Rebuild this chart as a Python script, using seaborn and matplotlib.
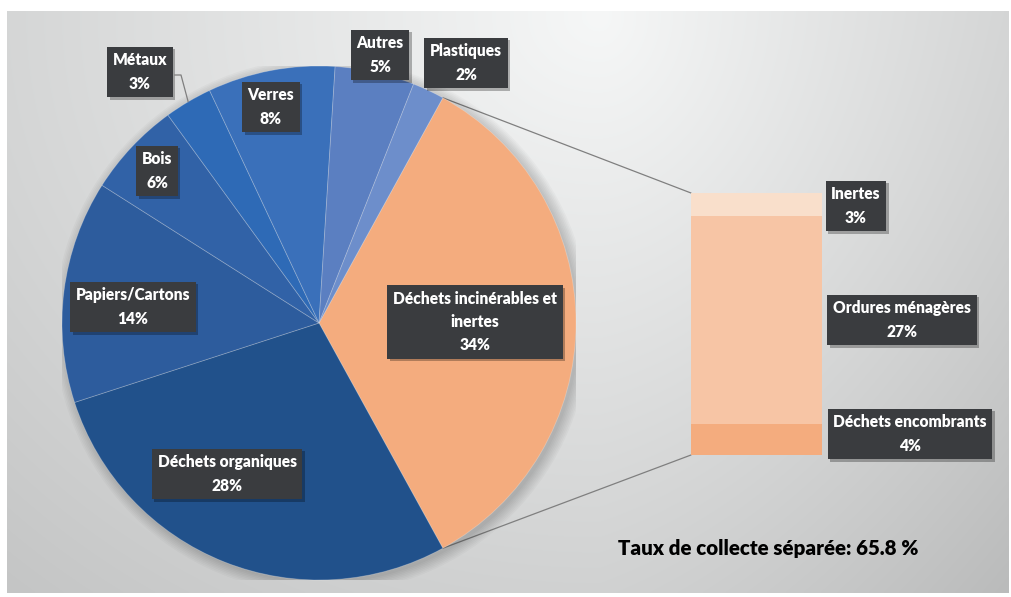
import numpy as np
import matplotlib
matplotlib.use("Agg")
import matplotlib.pyplot as plt
from matplotlib.patches import ConnectionPatch, Circle, Rectangle
import seaborn as sns

# ---------------- data ----------------
pie_labels = ["Déchets incinérables et\ninertes", "Déchets organiques", "Papiers/Cartons",
              "Bois", "Métaux", "Verres", "Autres", "Plastiques"]
pie_values = [34, 28, 14, 6, 3, 8, 5, 2]
pie_pct = ["34%", "28%", "14%", "6%", "3%", "8%", "5%", "2%"]

bar_labels = ["Déchets encombrants", "Ordures ménagères", "Inertes"]   # bottom -> top
bar_values = [4, 27, 3]
bar_pct = ["4%", "27%", "3%"]

summary_text = "Taux de collecte séparée: 65.8 %"

# ---------------- styles ----------------
pie_colors = ["#F4AC7E", "#21518B", "#2D5C9D", "#3162A7", "#2E6AB6", "#3A70BA", "#5B7FC1", "#6D8ECB"]
bar_colors = ["#F4AC7E", "#F7C5A5", "#F9DFCB"]
pie_label_pos = [(475, 322), (227, 474), (133, 307), (157, 171), (140, 72), (271, 107), (380, 55), (466, 63)]
bar_label_pos = [(910, 434), (902, 320), (856, 206)]
box_color = "#3A3C3F"
W, H = 1011, 597

sns.set_theme(style="white")
plt.rcParams["font.family"] = ["Lato", "DejaVu Sans"]

fig = plt.figure(figsize=(W / 100, H / 100), dpi=100, facecolor="white")

# ---------------- background gradient ----------------
bx0, by0, bx1, by1 = 7, 11, 1009, 593
bg = fig.add_axes([bx0 / W, (H - by1) / H, (bx1 - bx0) / W, (by1 - by0) / H], zorder=0)
xs = np.linspace(bx0, bx1, 400)
ys = np.linspace(by0, by1, 240)
X, Y = np.meshgrid(xs, ys)
cx, cy = 600, 15
dx = np.where(X < cx, (X - cx) / 593.0, (X - cx) / 408.0)
dy = (Y - cy) / 508.0
r = np.sqrt(dx ** 2 + dy ** 2)
val = 247 - 33 * r - 10 * np.clip((X - cx) / 408.0, 0, None) * (Y / 597.0)
val = np.clip(val, 0, 255) / 255.0
img = np.dstack([val * 0.995, val, val])
bg.imshow(img, extent=[bx0, bx1, by1, by0], aspect="auto", interpolation="bilinear")
bg.set_xlim(bx0, bx1)
bg.set_ylim(by1, by0)
bg.axis("off")

# ---------------- pie ----------------
pcx, pcy, prad = 319, 323, 257
pax = fig.add_axes([(pcx - prad) / W, (H - pcy - prad) / H, 2 * prad / W, 2 * prad / H], zorder=2)
total = sum(pie_values)
start = 360 * pie_values[0] / total / 2
for i in range(8):
    pax.add_patch(Circle((0.012, -0.012), 1.0 + 0.006 * i, color="black", alpha=0.025, lw=0, zorder=0))
wedges, _ = pax.pie(pie_values, colors=pie_colors, startangle=start, counterclock=False,
                    radius=1.0, wedgeprops=dict(linewidth=0.6, edgecolor=(1, 1, 1, 0.25)))
pax.set_xlim(-1, 1)
pax.set_ylim(-1, 1)
pax.set_aspect("auto")
pax.axis("off")

# ---------------- stacked bar ----------------
bl, bt, bw, bh = 691, 193, 131, 262
bax = fig.add_axes([bl / W, (H - bt - bh) / H, bw / W, bh / H], zorder=2)
cum = np.cumsum(bar_values)
for i in range(len(bar_values) - 1, -1, -1):
    sns.barplot(x=[0], y=[cum[i]], color=bar_colors[i], width=1, saturation=1,
                errorbar=None, linewidth=0, ax=bax)
bax.set_xlim(-0.5, 0.5)
bax.set_ylim(0, sum(bar_values))
bax.axis("off")

th_top = np.deg2rad(wedges[0].theta2)
th_bot = np.deg2rad(wedges[0].theta1)
for th, yb in [(th_top, sum(bar_values)), (th_bot, 0)]:
    con = ConnectionPatch(xyA=(np.cos(th), np.sin(th)), coordsA=pax.transData,
                          xyB=(-0.5, yb), coordsB=bax.transData,
                          color="#7F7F7F", lw=0.9, zorder=1)
    fig.add_artist(con)

# ---------------- overlay for labels ----------------
ov = fig.add_axes([0, 0, 1, 1], zorder=5)
ov.set_xlim(0, W)
ov.set_ylim(H, 0)
ov.axis("off")
ov.patch.set_alpha(0)

texts = []


def label(x, y, s):
    t = ov.text(x, y, s, ha="center", va="center", fontsize=11.2, fontweight="heavy",
                linespacing=1.55, color="white", zorder=4,
                bbox=dict(boxstyle="square,pad=0.36", fc=box_color, ec="none"))
    texts.append(t)


mi = pie_labels.index("Métaux")
w = wedges[mi]
tm = np.deg2rad((w.theta1 + w.theta2) / 2)
pt = ov.transData.inverted().transform(pax.transData.transform((np.cos(tm), np.sin(tm))))
ov.plot([175, 181, pt[0]], [75, 75, pt[1]], color="#7F7F7F", lw=0.9, zorder=2)

for lab, pct, (x, y) in zip(pie_labels, pie_pct, pie_label_pos):
    label(x, y, f"{lab}\n{pct}")
for lab, pct, (x, y) in zip(bar_labels, bar_pct, bar_label_pos):
    label(x, y, f"{lab}\n{pct}")

ov.text(618, 548, summary_text, ha="left", va="center", fontsize=14.8, fontweight="heavy", color="black")

fig.canvas.draw()
renderer = fig.canvas.get_renderer()
inv = ov.transData.inverted()
for t in texts:
    bb = t.get_bbox_patch().get_window_extent(renderer)
    (x0, y0) = inv.transform((bb.x0 + 2.5, bb.y0 - 2.5))
    (x1, y1) = inv.transform((bb.x1 + 2.5, bb.y1 - 2.5))
    ov.add_patch(Rectangle((x0, y1), x1 - x0, y0 - y1, fc=(0, 0, 0, 0.28), ec="none", zorder=3))

fig.savefig("out.png", dpi=100, facecolor="white")
